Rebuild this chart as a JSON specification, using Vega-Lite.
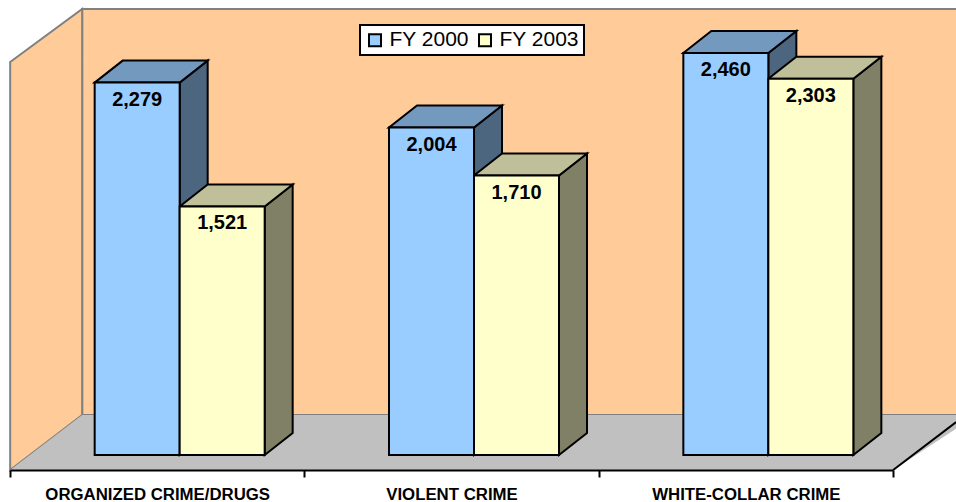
{
"$schema":"https://vega.github.io/schema/vega-lite/v6.json",
"width":883,"height":470,
"autosize":{"type":"none"},
"padding":{"left":10,"top":0,"right":63,"bottom":32},
"background":"white",
"config":{"view":{"stroke":null},"legend":{"strokeWidth":2}},
"data":{"values":[
{"group":"ORGANIZED CRIME/DRUGS","series":"FY 2000","value":2279},
{"group":"ORGANIZED CRIME/DRUGS","series":"FY 2003","value":1521},
{"group":"VIOLENT CRIME","series":"FY 2000","value":2004},
{"group":"VIOLENT CRIME","series":"FY 2003","value":1710},
{"group":"WHITE-COLLAR  CRIME","series":"FY 2000","value":2460},
{"group":"WHITE-COLLAR  CRIME","series":"FY 2003","value":2303}
]},
"encoding":{
"x":{"field":"group","type":"nominal","sort":null,"title":null,
"scale":{"domain":["ORGANIZED CRIME/DRUGS","VIOLENT CRIME","WHITE-COLLAR  CRIME"],"paddingInner":0,"paddingOuter":0},
"axis":{"tickBand":"extent","labelAngle":0,"domainColor":"#000000","domainWidth":2,"tickColor":"#000000","tickWidth":2,"tickSize":7,"labelFont":"Liberation Sans","labelFontWeight":"bold","labelFontSize":16.8,"labelColor":"#000000","labelPadding":9,"zindex":1,"labelLimit":400}},
"xOffset":{"field":"series","type":"nominal","sort":null,"scale":{"domain":["FY 2000","FY 2003"],"paddingInner":0,"paddingOuter":0.7314,"align":0.681}},
"y":{"field":"value","type":"quantitative","title":null,"scale":{"domain":[-91.8,2784.6],"nice":false,"zero":false},"axis":null}
},
"layer":[
{"data":{"values":[{"group":"ORGANIZED CRIME/DRUGS","value":0}]},
 "mark":{"type":"point","shape":"M-75,-446L809,-446L809,-40L-75,-40Z","size":4,"filled":true,"fill":"#FFCC99","stroke":"#808080","strokeWidth":2,"opacity":1},
 "encoding":{"xOffset":null}},
{"data":{"values":[{"group":"ORGANIZED CRIME/DRUGS","value":0}]},
 "mark":{"type":"point","shape":"M-147,-393L-75,-446L-75,-40L-147,15Z","size":4,"filled":true,"fill":"#FFCC99","stroke":"#808080","strokeWidth":2,"opacity":1},
 "encoding":{"xOffset":null}},
{"data":{"values":[{"group":"ORGANIZED CRIME/DRUGS","value":0}]},
 "mark":{"type":"point","shape":"M-147,15L-75,-40L809,-40L809,-33L736,15Z","size":4,"filled":true,"fill":"#C0C0C0","opacity":1},
 "encoding":{"xOffset":null}},
{"data":{"values":[{"group":"ORGANIZED CRIME/DRUGS","value":0}]},
 "mark":{"type":"point","shape":"M736,15L799,-33","size":4,"filled":false,"stroke":"#000000","strokeWidth":2,"opacity":1},
 "encoding":{"xOffset":null}},
{"transform":[{"calculate":"'M42.5,0L70.5,-22L70.5,'+(datum.value*0.1634-22)+'L42.5,'+(datum.value*0.1634)+'Z'","as":"sidePath"}],
 "mark":{"type":"point","size":4,"filled":true,"stroke":"#000000","strokeWidth":2,"opacity":1},
 "encoding":{"shape":{"field":"sidePath","type":"nominal","scale":null,"legend":null},
  "fill":{"condition":{"test":"datum.series==='FY 2000'","value":"#4D6680"},"value":"#808066"}}},
{"mark":{"type":"point","size":4,"filled":true,"stroke":"#000000","strokeWidth":2,"opacity":1,"shape":"M-42.5,0L42.5,0L70.5,-22L-14.5,-22Z"},
 "encoding":{"fill":{"condition":{"test":"datum.series==='FY 2000'","value":"#7399BF"},"value":"#BFBF99"}}},
{"mark":{"type":"bar","stroke":"#000000","strokeWidth":2},
 "encoding":{
  "y2":{"datum":0},
  "fill":{"field":"series","type":"nominal","sort":null,"scale":{"domain":["FY 2000","FY 2003"],"range":["#99CCFF","#FFFFCC"]},
   "legend":{"title":null,"orient":"none","legendX":350,"legendY":25,"direction":"horizontal","fillColor":"#FFFFFF","strokeColor":"#000000","symbolType":"square","symbolSize":144,"symbolStrokeColor":"#000000","symbolStrokeWidth":2,"symbolOpacity":1,"labelFont":"Liberation Sans","labelFontSize":21,"labelColor":"#000000","labelOffset":4,"columnPadding":5,"padding":4.5}}}},
{"mark":{"type":"text","font":"Liberation Sans","fontWeight":"bold","fontSize":20,"color":"#000000","baseline":"middle","dy":17},
 "encoding":{"text":{"field":"value","type":"quantitative","format":","}}}
]
}
